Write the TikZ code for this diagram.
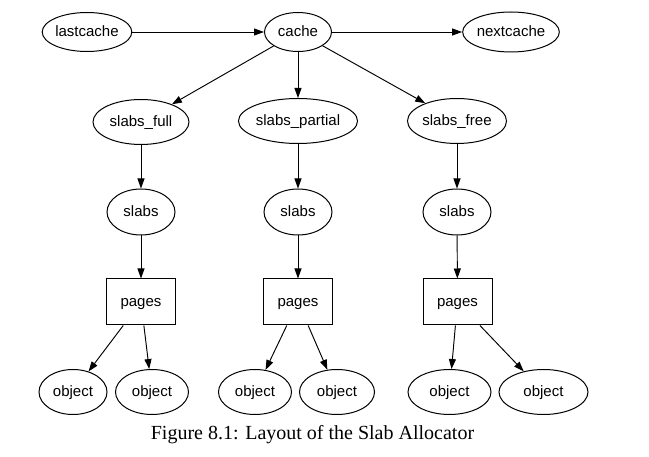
\documentclass[tikz,border=0pt]{standalone}
\usepackage{fontspec}
\setmainfont{Liberation Sans}
\newfontfamily\capfont{Liberation Serif}
\usetikzlibrary{shapes.geometric,arrows.meta}
\begin{document}
\begin{tikzpicture}[x=1pt,y=-1pt,
  every node/.style={font=\fontsize{15}{17}\selectfont, inner sep=0pt, line width=1pt},
  lbl/.style={text height=10.8pt, text depth=0.9pt},
  ell/.style={draw, ellipse, lbl},
  box/.style={draw, rectangle, lbl, minimum width=69pt, minimum height=46pt},
  arr/.style={line width=0.95pt, -{Triangle[length=10pt,width=7pt]}}]
\useasboundingbox (0,0) rectangle (649,457);
% top row
\node[ell, minimum width=88pt, minimum height=39pt] (last) at (87,32) {lastcache};
\node[ell, minimum width=67pt, minimum height=39pt] (cache) at (298,32) {cache};
\node[ell, minimum width=96pt, minimum height=40pt] (next) at (511,32) {nextcache};
% second row
\node[ell, minimum width=96pt, minimum height=45pt] (full) at (141,122) {slabs\_full};
\node[ell, minimum width=115pt, minimum height=45pt] (partial) at (298,121) {slabs\_partial};
\node[ell, minimum width=99pt, minimum height=45pt] (free) at (457,121) {slabs\_free};
% slabs
\node[ell, minimum width=68pt, minimum height=46pt] (s1) at (141,212) {slabs};
\node[ell, minimum width=68pt, minimum height=46pt] (s2) at (298,212) {slabs};
\node[ell, minimum width=68pt, minimum height=46pt] (s3) at (457,212) {slabs};
% pages
\node[box] (p1) at (141,302) {pages};
\node[box] (p2) at (298,302) {pages};
\node[box] (p3) at (457.5,302) {pages};
% objects
\node[ell, minimum width=68pt, minimum height=45pt] (o1) at (73,392) {object};
\node[ell, minimum width=73pt, minimum height=45pt] (o2) at (152,392) {object};
\node[ell, minimum width=73pt, minimum height=45pt] (o3) at (255,392) {object};
\node[ell, minimum width=75pt, minimum height=45pt] (o4) at (337,392) {object};
\node[ell, minimum width=83pt, minimum height=45pt] (o5) at (449.5,392) {object};
\node[ell, minimum width=89pt, minimum height=45pt] (o6) at (543.5,392) {object};
% caption
\node[font=\capfont\fontsize{20}{22}\selectfont] (cap) at (312.5,435) {Figure 8.1: Layout of the Slab Allocator};
% edges
\draw[arr] (last) -- (cache);
\draw[arr] (cache) -- (next);
\draw[arr] (cache) -- (full);
\draw[arr] (cache) -- (partial);
\draw[arr] (cache) -- (free);
\draw[arr] (full) -- (s1);
\draw[arr] (partial) -- (s2);
\draw[arr] (free) -- (s3);
\draw[arr] (s1) -- (p1);
\draw[arr] (s2) -- (p2);
\draw[arr] (s3) -- (p3);
\draw[arr] (p1) -- (o1);
\draw[arr] (p1) -- (o2);
\draw[arr] (p2) -- (o3);
\draw[arr] (p2) -- (o4);
\draw[arr] (p3) -- (o5);
\draw[arr] (p3) -- (o6);
\end{tikzpicture}
\end{document}
